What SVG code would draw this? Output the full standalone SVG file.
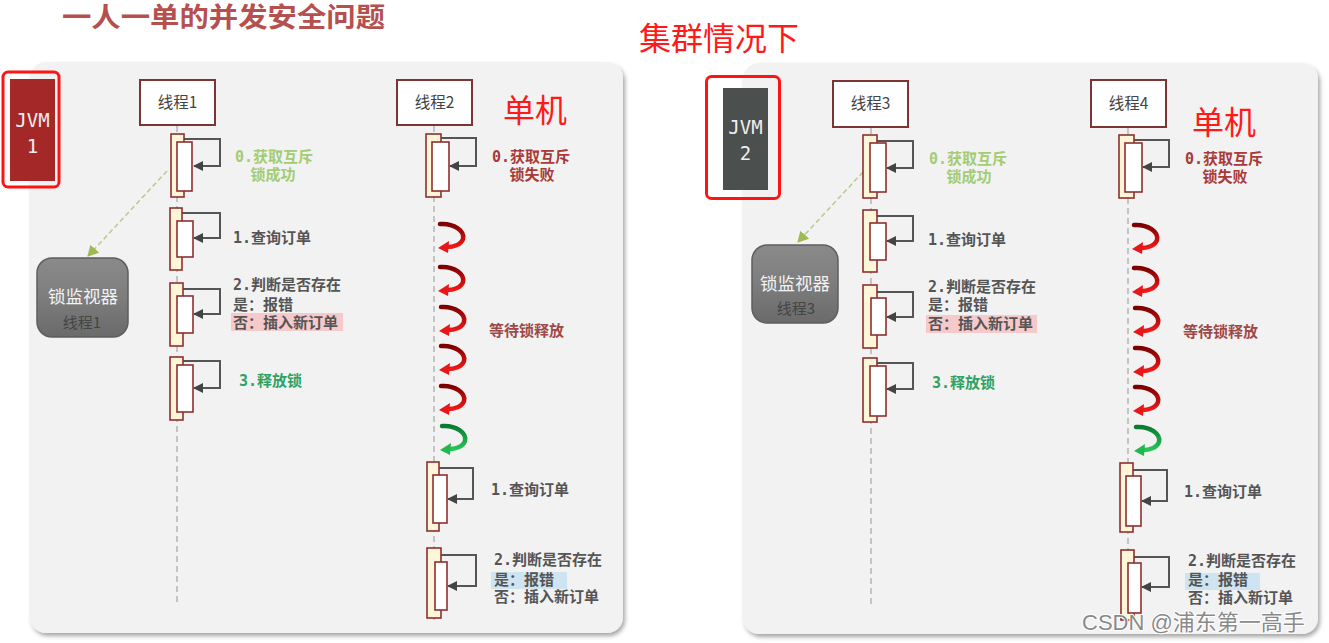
<svg xmlns="http://www.w3.org/2000/svg" xmlns:xlink="http://www.w3.org/1999/xlink" width="1329" height="643" viewBox="0 0 1329 643">
<style>
.panel{fill:#f2f2f2;filter:url(#sh)}
.thread{fill:#fff;stroke:#7d3434;stroke-width:2}
.tt{font-family:"Noto Sans CJK SC","Noto Sans",sans-serif;font-size:15.5px;fill:#444;text-anchor:middle}
.life{stroke:#c4c4c4;stroke-width:2;stroke-dasharray:6 4;fill:none}
.ao{fill:#fff6d9;stroke:#8e2f2f;stroke-width:1.6}
.ai{fill:#fff;stroke:#8e2f2f;stroke-width:1.6}
.loop{fill:none;stroke:#555;stroke-width:2;marker-end:url(#ah)}
.lb{font-family:"DejaVu Sans Mono","Noto Sans CJK SC",monospace;font-size:15px;font-weight:bold;fill:#555}
.mid{text-anchor:middle}
.ok{fill:#a3cc74}
.fail{fill:#a93a3a}
.rel{fill:#2fa263}
.wait{fill:#9f4848}
.pink{fill:#f6c9cb}
.blue{fill:#cfe4f1}
.hl{fill:none;stroke:#ff1414;stroke-width:3}
.jvmt{font-family:"DejaVu Sans Mono",monospace;font-size:19px;fill:#eee;text-anchor:middle}
.mon{fill:url(#mg);stroke:#5e5e5e;stroke-width:1.5}
.mt1{font-family:"Noto Sans CJK SC",sans-serif;font-size:17.5px;fill:#f2f2f2;text-anchor:middle}
.mt2{font-family:"Noto Sans CJK SC",sans-serif;font-size:15px;fill:#444;text-anchor:middle}
.dash{fill:none;stroke:#b9c98f;stroke-width:1.5;stroke-dasharray:5 3;marker-end:url(#gh)}
.red32{font-family:"Noto Sans CJK SC",sans-serif;font-size:32px;fill:#ff1a1a}
</style>
<defs>
<filter id="sh" x="-5%" y="-5%" width="110%" height="110%">
<feDropShadow dx="2" dy="3" stdDeviation="2" flood-color="#000" flood-opacity="0.35"/>
</filter>
<linearGradient id="mg" x1="0" y1="0" x2="0" y2="1">
<stop offset="0" stop-color="#8a8a8a"/><stop offset="0.5" stop-color="#7d7d7d"/><stop offset="1" stop-color="#6a6a6a"/>
</linearGradient>
<linearGradient id="rg" x1="0" y1="0" x2="0" y2="1">
<stop offset="0" stop-color="#7d0000"/><stop offset="1" stop-color="#f01818"/>
</linearGradient>
<linearGradient id="gg" x1="0" y1="0" x2="0" y2="1">
<stop offset="0" stop-color="#0b7a32"/><stop offset="1" stop-color="#28c458"/>
</linearGradient>
<marker id="ah" markerUnits="userSpaceOnUse" markerWidth="11" markerHeight="10" refX="9" refY="5" orient="auto">
<path d="M0,0 L10,5 L0,10 z" fill="#444"/>
</marker>
<marker id="gh" markerUnits="userSpaceOnUse" markerWidth="12" markerHeight="12" refX="10" refY="6" orient="auto">
<path d="M0,0 L11,6 L0,12 z" fill="#9dba55"/>
</marker>
<g id="curlR">
<path d="M2,2 C16,1 27,9 25,17 C23,23 15,25 9,25" fill="none" stroke="url(#rg)" stroke-width="4.5" stroke-linecap="round"/>
<polygon points="0,26 11,19 10,31" fill="#e81616"/>
</g>
<g id="curlG">
<path d="M2,2 C16,1 27,9 25,17 C23,23 15,25 9,25" fill="none" stroke="url(#gg)" stroke-width="4.5" stroke-linecap="round"/>
<polygon points="0,26 11,19 10,31" fill="#22b850"/>
</g>
</defs>

<rect width="1329" height="643" fill="#fff"/>

<g id="titles">
<text x="62" y="27" font-family="Noto Sans CJK SC,sans-serif" font-size="27" font-weight="bold" fill="#b5504f" textLength="323" lengthAdjust="spacingAndGlyphs">一人一单的并发安全问题</text>
<text x="639" y="50" class="red32" font-size="33">集群情况下</text>
</g>

<g id="panel-left"><rect class="panel" x="30" y="62" width="593" height="571" rx="16"/></g>
<g id="panel-right"><rect class="panel" x="743" y="63" width="575" height="571" rx="16"/></g>

<g id="jvm1">
<rect x="10" y="79" width="45" height="102" fill="#a52828"/>
<text x="32.5" y="127" class="jvmt">JVM</text>
<text x="32.5" y="153" class="jvmt">1</text>
<rect class="hl" x="3" y="72" width="56" height="115" rx="5"/>
</g>
<g id="jvm2">
<rect x="723" y="88" width="45" height="102" fill="#4b4f4d"/>
<text x="745.5" y="134" class="jvmt">JVM</text>
<text x="745.5" y="160" class="jvmt">2</text>
<rect class="hl" x="706.5" y="76.5" width="73" height="122" rx="5"/>
</g>

<g id="labels-single">
<text x="503" y="122" class="red32">单机</text>
<text x="1192" y="134" class="red32">单机</text>
</g>

<g id="connectors">
<line class="life" x1="177" y1="126" x2="177" y2="603"/>
<line class="life" x1="434" y1="126" x2="434" y2="620"/>
<line class="life" x1="871" y1="128" x2="871" y2="605"/>
<line class="life" x1="1128" y1="128" x2="1128" y2="622"/>
<path class="dash" d="M167,171 L88,256"/>
<path class="dash" d="M863,172 L798,242"/>
<path class="loop" d="M184,139 H220 V166 H194"/>
<path class="loop" d="M182,213 H220 V238 H194"/>
<path class="loop" d="M183,289 H220 V314 H194"/>
<path class="loop" d="M183,361 H220 V388 H194"/>
<path class="loop" d="M441,138 H476 V166 H450"/>
<path class="loop" d="M439,468 H473 V499 H448"/>
<path class="loop" d="M441,555 H476 V586 H448"/>
<path class="loop" d="M877,141 H913 V168 H887"/>
<path class="loop" d="M877,216 H913 V241 H887"/>
<path class="loop" d="M877,292 H913 V317 H887"/>
<path class="loop" d="M877,363 H913 V389 H887"/>
<path class="loop" d="M1134,140 H1169 V167 H1143"/>
<path class="loop" d="M1133,470 H1167 V501 H1142"/>
<path class="loop" d="M1134,557 H1169 V587 H1142"/>
<use xlink:href="#curlR" x="438" y="222"/>
<use xlink:href="#curlR" x="438" y="265"/>
<use xlink:href="#curlR" x="439" y="305"/>
<use xlink:href="#curlR" x="439" y="344"/>
<use xlink:href="#curlR" x="439" y="384"/>
<use xlink:href="#curlG" x="440" y="424"/>
<use xlink:href="#curlR" x="1132" y="223"/>
<use xlink:href="#curlR" x="1132" y="266"/>
<use xlink:href="#curlR" x="1133" y="306"/>
<use xlink:href="#curlR" x="1133" y="346"/>
<use xlink:href="#curlR" x="1133" y="385"/>
<use xlink:href="#curlG" x="1134" y="425"/>
</g>

<g id="thread1">
<rect class="thread" x="140" y="80" width="75" height="45"/>
<text x="177.5" y="108" class="tt">线程1</text>
</g>
<g id="thread2">
<rect class="thread" x="397" y="80" width="75" height="45"/>
<text x="434.5" y="108" class="tt">线程2</text>
</g>
<g id="thread3">
<rect class="thread" x="833" y="81" width="75" height="46"/>
<text x="870.5" y="109" class="tt">线程3</text>
</g>
<g id="thread4">
<rect class="thread" x="1091" y="80" width="75" height="47"/>
<text x="1128.5" y="109" class="tt">线程4</text>
</g>

<g id="monitor1">
<rect class="mon" x="37" y="258" width="91" height="79" rx="15"/>
<text x="83" y="303" class="mt1">锁监视器</text>
<text x="82" y="328" class="mt2">线程1</text>
</g>
<g id="monitor3">
<rect class="mon" x="752" y="245" width="86" height="78" rx="15"/>
<text x="795" y="290" class="mt1">锁监视器</text>
<text x="796" y="314" class="mt2">线程3</text>
</g>

<g id="t1-activations">
<rect class="ao" x="171" y="134" width="13" height="63"/><rect class="ai" x="177" y="142" width="15" height="49"/>
<rect class="ao" x="170" y="208" width="12" height="62"/><rect class="ai" x="177" y="221" width="16" height="36"/>
<rect class="ao" x="170" y="283" width="13" height="63"/><rect class="ai" x="177" y="296" width="16" height="37"/>
<rect class="ao" x="170" y="357" width="13" height="63"/><rect class="ai" x="177" y="365" width="16" height="47"/>
</g>
<g id="t2-activations">
<rect class="ao" x="426" y="134" width="15" height="63"/><rect class="ai" x="432" y="142" width="17" height="49"/>
<rect class="ao" x="427" y="462" width="12" height="69"/><rect class="ai" x="433" y="475" width="14" height="48"/>
<rect class="ao" x="427" y="548" width="14" height="70"/><rect class="ai" x="435" y="562" width="12" height="48"/>
</g>
<g id="t3-activations">
<rect class="ao" x="863" y="135" width="14" height="63"/><rect class="ai" x="870" y="143" width="16" height="49"/>
<rect class="ao" x="863" y="210" width="14" height="62"/><rect class="ai" x="870" y="223" width="16" height="37"/>
<rect class="ao" x="863" y="285" width="14" height="63"/><rect class="ai" x="871" y="298" width="15" height="37"/>
<rect class="ao" x="863" y="358" width="14" height="64"/><rect class="ai" x="870" y="366" width="16" height="50"/>
</g>
<g id="t4-activations">
<rect class="ao" x="1119" y="135" width="15" height="63"/><rect class="ai" x="1125" y="143" width="17" height="49"/>
<rect class="ao" x="1120" y="463" width="13" height="69"/><rect class="ai" x="1126" y="476" width="15" height="50"/>
<rect class="ao" x="1121" y="550" width="13" height="70"/><rect class="ai" x="1128" y="563" width="13" height="50"/>
</g>

<g id="t1-labels">
<text x="274" y="162" class="lb mid ok">0.获取互斥</text>
<text x="273" y="180" class="lb mid ok">锁成功</text>
<text x="233" y="243" class="lb">1.查询订单</text>
<text x="233" y="290" class="lb">2.判断是否存在</text>
<text x="233" y="310" class="lb">是：报错</text>
<rect class="pink" x="231" y="313" width="112" height="18"/>
<text x="233" y="328" class="lb">否：插入新订单</text>
<text x="239" y="386" class="lb rel">3.释放锁</text>
</g>
<g id="t2-labels">
<text x="531" y="162" class="lb mid fail">0.获取互斥</text>
<text x="532" y="180" class="lb mid fail">锁失败</text>
<text x="489" y="336" class="lb wait">等待锁释放</text>
<text x="491" y="495" class="lb">1.查询订单</text>
<text x="494" y="565" class="lb">2.判断是否存在</text>
<rect class="blue" x="491" y="572" width="76" height="17"/>
<text x="494" y="585" class="lb">是：报错</text>
<text x="494" y="602" class="lb">否：插入新订单</text>
</g>
<g id="t3-labels">
<text x="968" y="164" class="lb mid ok">0.获取互斥</text>
<text x="969" y="182" class="lb mid ok">锁成功</text>
<text x="928" y="245" class="lb">1.查询订单</text>
<text x="928" y="292" class="lb">2.判断是否存在</text>
<text x="928" y="310" class="lb">是：报错</text>
<rect class="pink" x="926" y="315" width="111" height="18"/>
<text x="928" y="329" class="lb">否：插入新订单</text>
<text x="932" y="388" class="lb rel">3.释放锁</text>
</g>
<g id="t4-labels">
<text x="1224" y="164" class="lb mid fail">0.获取互斥</text>
<text x="1225" y="182" class="lb mid fail">锁失败</text>
<text x="1183" y="337" class="lb wait">等待锁释放</text>
<text x="1184" y="497" class="lb">1.查询订单</text>
<text x="1188" y="566" class="lb">2.判断是否存在</text>
<rect class="blue" x="1185" y="573" width="75" height="17"/>
<text x="1188" y="585" class="lb">是：报错</text>
<text x="1188" y="603" class="lb">否：插入新订单</text>
</g>

<g id="watermark">
<text x="1082" y="630" font-family="Liberation Sans,Noto Sans CJK SC,sans-serif" font-size="22" fill="#8a8a8a" stroke="#fff" stroke-width="2" paint-order="stroke">CSDN @浦东第一高手</text>
</g>
</svg>
